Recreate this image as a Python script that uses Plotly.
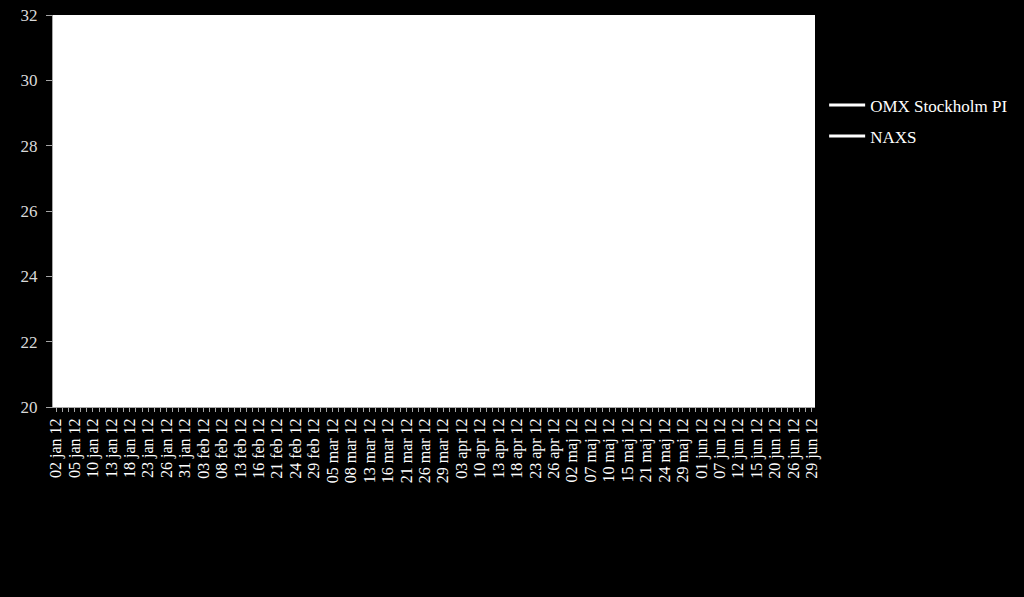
import pandas as pd
import plotly.graph_objects as go

# Stockholm trading days, H1 2012 (the source keeps 6 jan)
holidays = ["2012-04-06", "2012-04-09", "2012-05-01",
            "2012-05-17", "2012-06-06", "2012-06-22"]
dates = [d for d in pd.bdate_range("2012-01-02", "2012-06-29")
         if d.strftime("%Y-%m-%d") not in holidays]

tick_labels = ["02 jan 12", "05 jan 12", "10 jan 12", "13 jan 12", "18 jan 12", "23 jan 12",
               "26 jan 12", "31 jan 12", "03 feb 12", "08 feb 12", "13 feb 12", "16 feb 12",
               "21 feb 12", "24 feb 12", "29 feb 12", "05 mar 12", "08 mar 12", "13 mar 12",
               "16 mar 12", "21 mar 12", "26 mar 12", "29 mar 12", "03 apr 12", "10 apr 12",
               "13 apr 12", "18 apr 12", "23 apr 12", "26 apr 12", "02 maj 12", "07 maj 12",
               "10 maj 12", "15 maj 12", "21 maj 12", "24 maj 12", "29 maj 12", "01 jun 12",
               "07 jun 12", "12 jun 12", "15 jun 12", "20 jun 12", "26 jun 12", "29 jun 12"]

# no line is visible inside the 20-32 window, only the legend entries
omx_values = [None]
naxs_values = [None]

y_ticks = [20, 22, 24, 26, 28, 30, 32]

font = "Liberation Serif"
x_idx = list(range(len(dates)))
tick_pos = x_idx[::3][:len(tick_labels)]

fig = go.Figure()
fig.add_trace(go.Scatter(x=x_idx[:len(omx_values)], y=omx_values, mode="lines",
                         name="OMX Stockholm PI", legendgroup="a",
                         line=dict(color="white", width=3)))
fig.add_trace(go.Scatter(x=x_idx[:len(naxs_values)], y=naxs_values, mode="lines",
                         name="NAXS", legendgroup="b",
                         line=dict(color="white", width=3)))

fig.update_layout(
    width=1024, height=597,
    paper_bgcolor="black", plot_bgcolor="white",
    margin=dict(l=53, r=209, t=15, b=190, autoexpand=False),
    font=dict(family=font, color="white"),
    showlegend=True,
    legend=dict(x=1.012, y=0.73, xanchor="left", yanchor="middle",
                font=dict(family=font, size=17, color="white"),
                bgcolor="rgba(0,0,0,0)", itemwidth=36, tracegroupgap=6),
)
fig.update_xaxes(
    range=[-0.5, len(dates) - 0.5], tickmode="array", tickvals=tick_pos, ticktext=tick_labels,
    tickangle=-90, tickfont=dict(family=font, size=16, color="white"),
    showgrid=False, zeroline=False, showline=True, linecolor="#a6a6a6", linewidth=1,
    ticks="outside", ticklen=4, tickcolor="#a6a6a6",
    minor=dict(dtick=1, tick0=0, ticks="outside", ticklen=4, tickcolor="#a6a6a6", showgrid=False),
)
fig.update_yaxes(
    range=[20, 32], tickvals=y_ticks,
    tickfont=dict(family=font, size=17, color="#d9d9d9"),
    showgrid=False, zeroline=False, showline=True, linecolor="#a6a6a6", linewidth=1,
    ticks="outside", ticklen=6, tickcolor="#a6a6a6", ticklabelstandoff=5,
)

fig.write_html("out.html", config={"displayModeBar": False},
               post_script="document.body.style.margin='0';")
